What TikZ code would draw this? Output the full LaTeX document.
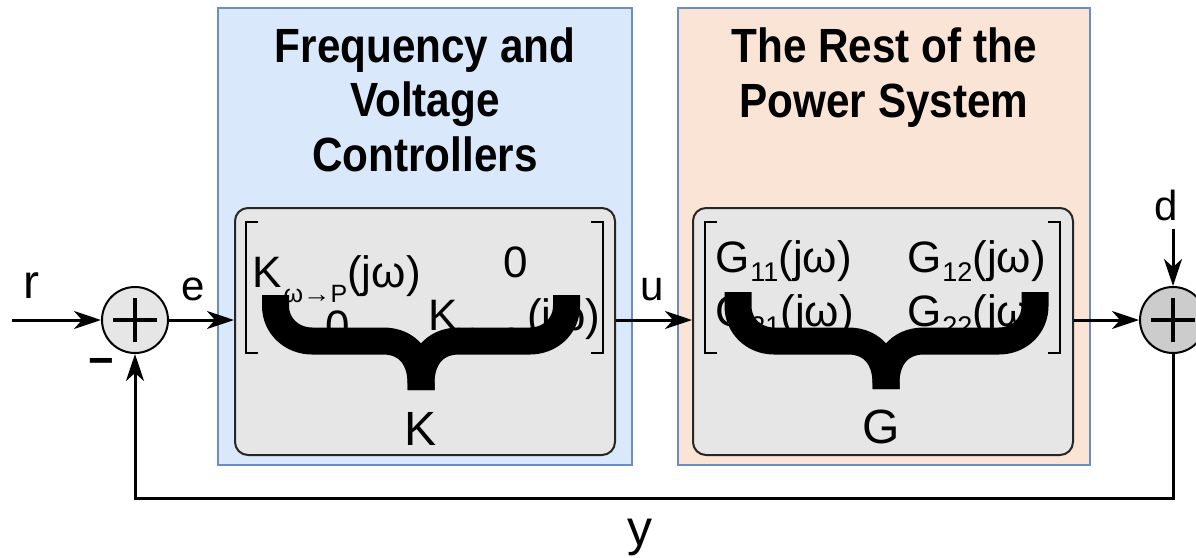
\documentclass[tikz,border=0pt]{standalone}
\usepackage{fontspec}
\setmainfont{Liberation Sans}
\newfontfamily\titlefont[FakeStretch=0.88]{Liberation Sans}
\usetikzlibrary{arrows.meta}
\newcommand\myfs[1]{\fontsize{#1}{#1}\selectfont}
\definecolor{bluefill}{HTML}{DAE8FC}
\definecolor{orangefill}{HTML}{FAE4D6}
\definecolor{boxborder}{HTML}{6C8EBF}
\definecolor{innerfill}{HTML}{E6E6E6}
\definecolor{sumdark}{HTML}{CCCCCC}
\tikzset{
  bigbox/.style={draw=boxborder, line width=2pt, minimum width=#1, minimum height=457pt, inner sep=0pt},
  innerbox/.style={draw=black!85, fill=innerfill, line width=2pt, rounded corners=13pt, minimum width=380pt, minimum height=247pt, inner sep=0pt},
  sumnode/.style={circle, draw=black, line width=2pt, minimum size=66pt, inner sep=0pt},
  conn/.style={line width=3pt, -{Stealth[length=27pt,width=18pt,inset=8pt]}},
  crossline/.style={line width=4.5pt},
  bracket/.style={line width=2pt},
  bracebar/.style={line width=27pt, line cap=butt, line join=round},
  titletext/.style={inner sep=0pt, anchor=base, font=\titlefont\bfseries\myfs{48}},
  mtext/.style={inner sep=0pt, anchor=base west, font=\myfs{44}},
  lbl/.style={inner sep=0pt, anchor=base west},
}
\begin{document}
\begin{tikzpicture}[x=1pt, y=-1pt]
\useasboundingbox (0,0) rectangle (1196,557);
% big boxes
\node[bigbox=414pt, fill=bluefill] (blue) at (425,236.5) {};
\node[bigbox=412pt, fill=orangefill] (orange) at (884,236.5) {};
% titles
\node[titletext] (t1) at (425,62) {Frequency and};
\node[titletext] (t2) at (425,116) {Voltage};
\node[titletext] (t3) at (425,171) {Controllers};
\node[titletext] (t4) at (884,62) {The Rest of the};
\node[titletext] (t5) at (884,117) {Power System};
% inner boxes
\node[innerbox] (Kbox) at (425,331.5) {};
\node[innerbox] (Gbox) at (883,331.5) {};
% brackets
\draw[bracket] (258,222) -- (246,222) -- (246,353) -- (258,353);
\draw[bracket] (591,222) -- (603,222) -- (603,353) -- (591,353);
\draw[bracket] (717,222) -- (705,222) -- (705,353) -- (717,353);
\draw[bracket] (1048,222) -- (1060,222) -- (1060,353) -- (1048,353);
% K matrix entries
\node[mtext] (k11) at (252,287) {K\hspace{2pt}\raisebox{-15pt}{\myfs{25}ω\scalebox{1.1}[1]{→}P}(jω)};
\node[mtext, anchor=base] (k12) at (516,277) {0};
\node[mtext, anchor=base] (k21) at (337.5,341) {0};
\node[mtext] (k22) at (428,330) {K\raisebox{-15pt}{\myfs{25}V\scalebox{1.1}[1]{→}Q}\hspace{6pt}(jω)};
% G matrix entries
\node[mtext] (g11) at (715,272) {G\hspace{1pt}\raisebox{-9pt}{\myfs{27}11}(jω)};
\node[mtext] (g12) at (907,272) {G\hspace{1pt}\raisebox{-9pt}{\myfs{27}12}(jω)};
\node[mtext] (g21) at (715,326) {G\hspace{1pt}\raisebox{-9pt}{\myfs{27}21}(jω)};
\node[mtext] (g22) at (907,326) {G\hspace{1pt}\raisebox{-9pt}{\myfs{27}22}(jω)};
% braces
\draw[bracebar] (275.5,295) -- (275.5,306) .. controls (275.5,326) and (292,341) .. (312,341) -- (383,341) .. controls (409,341) and (421,360) .. (421,383) -- (421,390);
\draw[bracebar] (566.5,295) -- (566.5,306) .. controls (566.5,326) and (550,341) .. (530,341) -- (459,341) .. controls (433,341) and (421,360) .. (421,383) -- (421,390);
\draw[bracebar] (738,292) -- (738,306) .. controls (738,326) and (754,341) .. (774,341) -- (848,341) .. controls (874,341) and (886,360) .. (886,383) -- (886,389);
\draw[bracebar] (1035,292) -- (1035,306) .. controls (1035,326) and (1019,341) .. (999,341) -- (924,341) .. controls (898,341) and (886,360) .. (886,383) -- (886,389);
% brace labels
\node[inner sep=0pt, anchor=base, font=\myfs{48}] (Klbl) at (421,445) {K};
\node[inner sep=0pt, anchor=base, font=\myfs{48}] (Glbl) at (881,443) {G};
% summing junctions
\node[sumnode, fill=innerfill] (sumL) at (135,320) {};
\node[sumnode, fill=sumdark] (sumR) at (1173,320) {};
\draw[crossline] ([xshift=-22pt]sumL.center) -- ([xshift=22pt]sumL.center);
\draw[crossline] ([yshift=-22pt]sumL.center) -- ([yshift=22pt]sumL.center);
\draw[crossline] ([xshift=-22pt]sumR.center) -- ([xshift=22pt]sumR.center);
\draw[crossline] ([yshift=-22pt]sumR.center) -- ([yshift=22pt]sumR.center);
% coordinates
\coordinate (rin) at (12,320);
\coordinate (din) at (1173,229);
\coordinate (fb1) at (1173,498);
\coordinate (fb2) at (135,498);
% connectors
\draw[conn] (rin) -- (sumL.west);
\draw[conn] (sumL.east) -- (sumL.east -| Kbox.west);
\draw[conn] (Kbox.east |- sumL.east) -- (Gbox.west |- sumL.east);
\draw[conn] (Gbox.east |- sumR.west) -- (sumR.west);
\draw[conn] (din) -- (sumR.north);
\draw[conn] (sumR.south) -- (fb1) -- (fb2) -- (sumL.south);
% labels
\node[lbl, font=\myfs{48}] (rl) at (23,298) {r};
\node[lbl, font=\myfs{42}] (el) at (181,300) {e};
\node[lbl, font=\myfs{42}] (ul) at (640,300) {u};
\node[lbl, font=\myfs{42}] (dl) at (1154,220) {d};
\node[lbl, font=\myfs{50}] (yl) at (627,545) {y};
\node[inner sep=0pt, font=\bfseries\myfs{44}] (minus) at (101,367) {−};
\end{tikzpicture}
\end{document}
